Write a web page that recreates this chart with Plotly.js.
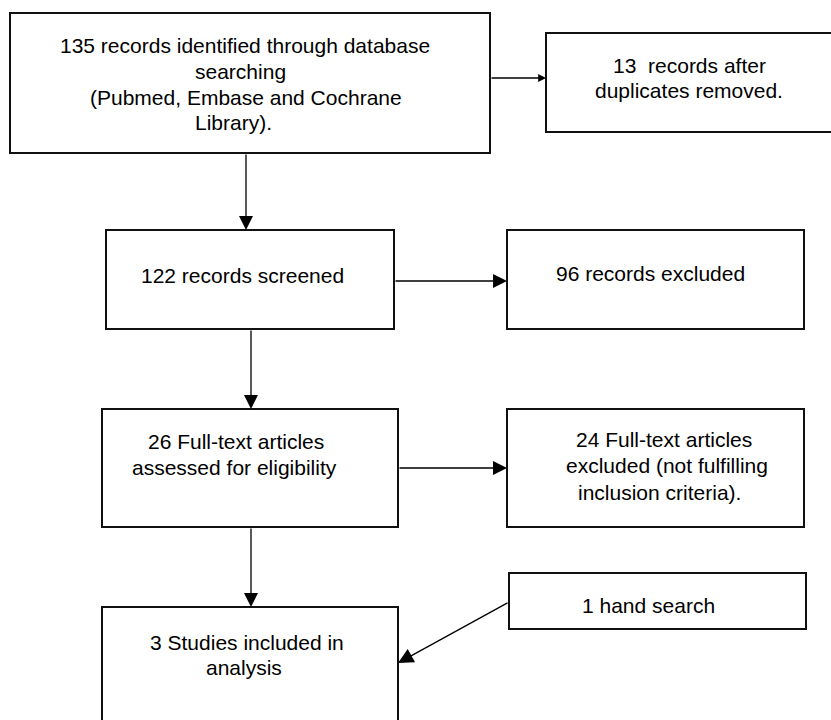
<!DOCTYPE html>
<html>
<head>
<meta charset="utf-8">
<script src="https://cdn.plot.ly/plotly-3.0.1.min.js"></script>
<style>
  html, body { margin: 0; padding: 0; background: #fff; }
  #chart { width: 831px; height: 720px; }
</style>
</head>
<body>
<div id="chart"></div>
<script>
// ---- Flowchart content (text of each box, one entry per line) ----
const identifiedLines = ["135 records identified through database", "searching", "(Pubmed, Embase and Cochrane", "Library)."];
const duplicatesLines = ["13\u00A0 records after", "duplicates removed."];
const screenedLines   = ["122 records screened"];
const excludedLines   = ["96 records excluded"];
const fullTextLines   = ["26 Full-text articles", "assessed for eligibility"];
const ftExcludedLines = ["24 Full-text articles", "excluded (not fulfilling", "inclusion criteria)."];
const includedLines   = ["3 Studies included in", "analysis"];
const handSearchLines = ["1 hand search"];

// ---- Diagram geometry (pixel layout of the boxes) ----
// box: [x0, x1, y0, y1], text line centres: xs, ys
const boxes = [
  { lines: identifiedLines, box: [10, 490, 13, 153],  xs: [245, 240, 246, 233], ys: [45, 71, 97, 122] },
  { lines: duplicatesLines, box: [546, 833, 33, 132], xs: [689, 689],           ys: [65, 90] },
  { lines: screenedLines,   box: [106, 394, 230, 329], xs: [242],               ys: [275] },
  { lines: excludedLines,   box: [507, 804, 230, 329], xs: [650],               ys: [273] },
  { lines: fullTextLines,   box: [102, 398, 409, 527], xs: [236, 234],          ys: [441, 467] },
  { lines: ftExcludedLines, box: [507, 804, 409, 527], xs: [664, 667, 659],     ys: [439, 465, 492] },
  { lines: includedLines,   box: [102, 398, 607, 760], xs: [247, 244],          ys: [642, 667] },
  { lines: handSearchLines, box: [509, 806, 573, 629], xs: [648],               ys: [605] }
];

// arrows: tail (x, y) -> head (x, y), head size
const arrows = [
  { from: [490, 78],  to: [546, 78],  size: 1.2 },
  { from: [246, 153], to: [246, 230], size: 2.15 },
  { from: [394, 281], to: [507, 281], size: 2.15 },
  { from: [251, 329], to: [251, 409], size: 2.15 },
  { from: [398, 468], to: [507, 468], size: 2.15 },
  { from: [251, 527], to: [251, 607], size: 2.15 },
  { from: [509, 602], to: [398, 663], size: 2.35 }
];

const FONT = { family: "Liberation Sans, Arial, Helvetica, sans-serif", size: 21, color: "#000" };

const shapes = boxes.map(b => ({
  type: "rect", xref: "x", yref: "y",
  x0: b.box[0], x1: b.box[1], y0: b.box[2], y1: b.box[3],
  line: { color: "#111", width: 2 }, fillcolor: "rgba(0,0,0,0)", layer: "above"
}));

const annotations = [];
boxes.forEach(b => {
  b.lines.forEach((t, i) => {
    annotations.push({
      text: t, x: b.xs[i], y: b.ys[i], xref: "x", yref: "y",
      xanchor: "center", yanchor: "middle", showarrow: false, font: FONT
    });
  });
});
arrows.forEach(a => {
  annotations.push({
    text: "", x: a.to[0], y: a.to[1], ax: a.from[0], ay: a.from[1],
    xref: "x", yref: "y", axref: "x", ayref: "y",
    showarrow: true, arrowhead: 2, arrowsize: a.size, arrowwidth: 1.3,
    arrowcolor: "#000", standoff: 0, startstandoff: 0
  });
});

const layout = {
  width: 831, height: 720,
  margin: { l: 0, r: 0, t: 0, b: 0, pad: 0 },
  paper_bgcolor: "#fff", plot_bgcolor: "#fff",
  xaxis: { range: [0, 831], visible: false, fixedrange: true },
  yaxis: { range: [720, 0], visible: false, fixedrange: true },
  showlegend: false,
  shapes: shapes,
  annotations: annotations
};

Plotly.newPlot("chart", [], layout, { displayModeBar: false, staticPlot: true });
</script>
</body>
</html>
